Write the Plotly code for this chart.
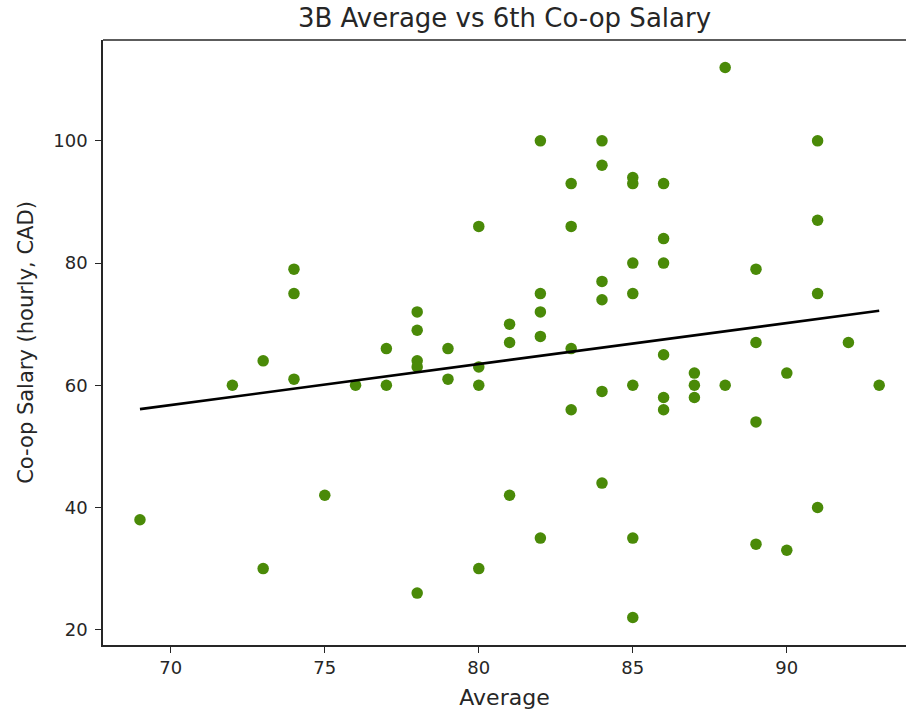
import numpy as np
import plotly.graph_objects as go

# Term average (%) for each student and the hourly salary of their 6th co-op (CAD)
average = [
    69, 72, 73, 73, 74, 74, 74, 75, 76, 77, 77,
    78, 78, 78, 78, 78, 79, 79,
    80, 80, 80, 80, 81, 81, 81,
    82, 82, 82, 82, 82, 83, 83, 83, 83,
    84, 84, 84, 84, 84, 84,
    85, 85, 85, 85, 85, 85, 85,
    86, 86, 86, 86, 86, 86,
    87, 87, 87, 88, 88,
    89, 89, 89, 89, 90, 90,
    91, 91, 91, 91, 92, 93,
]
salary = [
    38, 60, 64, 30, 79, 75, 61, 42, 60, 66, 60,
    72, 69, 64, 63, 26, 66, 61,
    86, 63, 60, 30, 70, 67, 42,
    100, 75, 72, 68, 35, 93, 86, 66, 56,
    100, 96, 77, 74, 59, 44,
    94, 93, 80, 75, 60, 35, 22,
    93, 84, 80, 65, 58, 56,
    62, 60, 58, 112, 60,
    79, 67, 54, 34, 62, 33,
    100, 87, 75, 40, 67, 60,
]

x = np.array(average, dtype=float)
y = np.array(salary, dtype=float)

# Least-squares trend line across the observed range of averages
slope, intercept = np.polyfit(x, y, 1)
fit_x = np.array([x.min(), x.max()])
fit_y = slope * fit_x + intercept

FONT = "DejaVu Sans"
TEXT = "#262626"

fig = go.Figure()
fig.add_trace(go.Scatter(
    x=x, y=y, mode="markers",
    marker=dict(size=11.5, color="#4a8a08", line=dict(width=0)),
    showlegend=False, hoverinfo="x+y",
))
fig.add_trace(go.Scatter(
    x=fit_x, y=fit_y, mode="lines",
    line=dict(color="black", width=2.6),
    showlegend=False, hoverinfo="skip",
))

fig.update_layout(
    width=906, height=714,
    margin=dict(l=103, r=0, t=40, b=69),
    paper_bgcolor="white", plot_bgcolor="white",
    font=dict(family=FONT, size=18, color=TEXT),
    title=dict(text="3B Average vs 6th Co-op Salary", x=0.5, xref="paper",
               y=1 - 18 / 714, yanchor="middle",
               font=dict(family=FONT, size=26, color=TEXT)),
    xaxis=dict(
        range=[67.8, 93.87], tickvals=[70, 75, 80, 85, 90],
        showgrid=False, zeroline=False,
        showline=True, linecolor="#262626", linewidth=1.6,
        ticks="outside", ticklen=6, tickwidth=1.2, tickcolor="#262626",
        tickfont=dict(size=18, color=TEXT),
        title=dict(text="Average", font=dict(size=22, color=TEXT), standoff=12),
    ),
    yaxis=dict(
        range=[17.5, 116.5], tickvals=[20, 40, 60, 80, 100],
        showgrid=False, zeroline=False,
        showline=True, linecolor="#262626", linewidth=1.6,
        ticks="outside", ticklen=6, tickwidth=1.2, tickcolor="#262626",
        ticklabelstandoff=4,
        tickfont=dict(size=18, color=TEXT),
        title=dict(text="Co-op Salary (hourly, CAD)", font=dict(size=21, color=TEXT), standoff=14),
    ),
    shapes=[dict(type="line", xref="paper", yref="paper", x0=0, x1=1, y0=1, y1=1,
                 line=dict(color="#262626", width=1.6))],
)

fig.write_html("out.html")
